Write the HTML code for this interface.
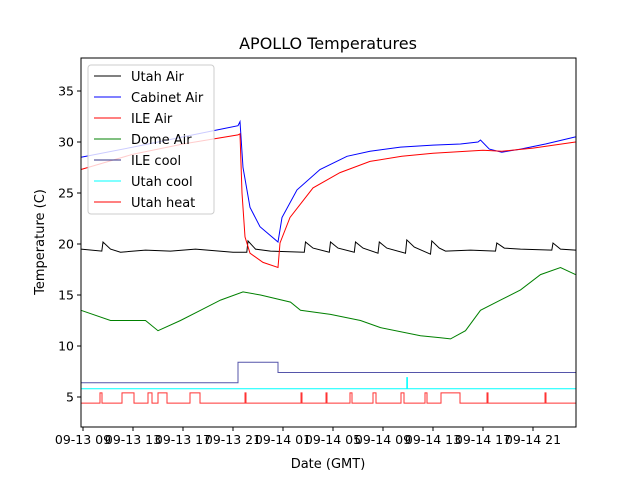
<!DOCTYPE html>
<html><head><meta charset="utf-8"><style>
body{margin:0;background:#fff;}
svg{font-family:"DejaVu Sans","Liberation Sans",sans-serif;}
</style></head><body>
<svg id="chart" width="640" height="480" viewBox="0 0 640 480" xmlns="http://www.w3.org/2000/svg">
<rect width="640" height="480" fill="#fff"/>
<text x="328" y="49" font-size="16" text-anchor="middle">APOLLO Temperatures</text>
<g id="plot"></g>
<rect x="81" y="58" width="495" height="369" fill="none" stroke="#000" stroke-width="1"/>
<g id="axes"></g>
<text x="328" y="468" font-size="13" text-anchor="middle">Date (GMT)</text>
<text transform="translate(44,242) rotate(-90)" font-size="13" text-anchor="middle">Temperature (C)</text>
<g id="legend"></g>
</svg>
<script>
// time in hours since 09-13 09:00 GMT
const xTickHours=[0,4,8,12,16,20,24,28,32,36];
const xTickLabels=["09-13 09","09-13 13","09-13 17","09-13 21","09-14 01","09-14 05","09-14 09","09-14 13","09-14 17","09-14 21"];
const yTicks=[5,10,15,20,25,30,35];
const cabinetT=[-0.16,4,8,12.4,12.56,12.8,13.36,14.16,15.6,15.92,17.12,18.96,21.12,22.96,25.4,28,30.2,31.6,31.8,32.5,33.5,35,37,39.4];
const cabinetV=[28.5,29.5,30.5,31.6,32,27.5,23.6,21.7,20.2,22.6,25.3,27.3,28.6,29.1,29.5,29.7,29.8,30,30.2,29.3,29,29.3,29.8,30.5];
const ileAirT=[-0.16,4,8,12.4,12.56,12.72,12.96,13.36,14.4,15.6,15.76,16.56,18.4,20.56,22.96,25.5,28,32,33.5,36,39.4];
const ileAirV=[27.3,28.8,29.8,30.7,30.8,25,20.7,19.1,18.2,17.7,20.1,22.6,25.5,27,28.1,28.6,28.9,29.2,29.1,29.4,30];
const utahAirT=[-0.16,1.5,1.6,2.2,3,5,7,9,12,13.1,13.2,13.8,15,17.7,17.8,18.4,19.7,19.8,20.4,21.7,21.8,22.4,23.6,23.7,24.3,25.8,25.9,26.5,27.8,27.9,28.5,29,31,33,33.1,33.7,35,37.5,37.6,38.2,39.4];
const utahAirV=[19.5,19.3,20.2,19.5,19.2,19.4,19.3,19.5,19.2,19.2,20.3,19.5,19.3,19.2,20.2,19.6,19.2,20.2,19.6,19.2,20.2,19.6,19.1,20.2,19.6,19.1,20.4,19.7,19.0,20.3,19.6,19.3,19.4,19.3,20.1,19.6,19.5,19.4,20.1,19.5,19.4];
const domeT=[-0.16,2.2,5,6,7.8,9.4,11,12.8,14.2,16.6,17.4,19.8,22.2,23.8,27,28.6,29.4,30.6,31.8,33.4,35,36.6,38.2,39.4];
const domeV=[13.5,12.5,12.5,11.5,12.5,13.5,14.5,15.3,15,14.3,13.5,13.1,12.5,11.8,11,10.8,10.7,11.5,13.5,14.5,15.5,17,17.7,17];
const ileCoolT=[-0.16,12.4,12.4,15.6,15.6,39.4];
const ileCoolV=[6.4,6.4,8.4,8.4,7.4,7.4];
const utahCoolT=[-0.16,25.9,25.9,25.95,25.95,39.4];
const utahCoolV=[5.8,5.8,6.9,6.9,5.8,5.8];
const heatOn=[1.36,3.12,5.2,6,8.56,12.96,17.44,19.44,21.36,23.2,25.44,27.36,28.64,32.32,36.96];
const heatOff=[1.52,4.08,5.52,6.72,9.36,13.04,17.52,19.52,21.52,23.44,25.68,27.52,30.16,32.4,37.04];
const heatLow=4.4, heatHigh=5.4;

const L=81,R=576,T=58,B=427;
const xs=h=>83+h*12.5;
const ys=v=>397-(v-5)*10.2;
const NS="http://www.w3.org/2000/svg";
const plot=document.getElementById('plot');
const axes=document.getElementById('axes');
function line(ts,vs,color,name){
  const p=document.createElementNS(NS,'polyline');
  p.setAttribute('points',ts.map((t,i)=>xs(t).toFixed(1)+','+ys(vs[i]).toFixed(1)).join(' '));
  p.setAttribute('fill','none');p.setAttribute('stroke',color);p.setAttribute('stroke-width','1');
  
  
  plot.appendChild(p);
}
const heatT=[-0.16],heatV=[heatLow];
heatOn.forEach((t,i)=>{heatT.push(t,t,heatOff[i],heatOff[i]);heatV.push(heatLow,heatHigh,heatHigh,heatLow);});
heatT.push(39.4);heatV.push(heatLow);
line(utahAirT,utahAirV,'#000','utah-air-line');
line(cabinetT,cabinetV,'#0000ff','cabinet-air-line');
line(ileAirT,ileAirV,'#ff0000','ile-air-line');
line(domeT,domeV,'#008000','dome-air-line');
line(ileCoolT,ileCoolV,'#5555aa','ile-cool-line');
line(utahCoolT,utahCoolV,'#00ffff','utah-cool-line');
line(heatT,heatV,'#ff3333','utah-heat-line');
xTickHours.forEach((h,i)=>{
  const x=xs(h);
  const t=document.createElementNS(NS,'line');
  t.setAttribute('x1',x);t.setAttribute('x2',x);t.setAttribute('y1',B);t.setAttribute('y2',B+4);t.setAttribute('stroke','#000');
  
  
  axes.appendChild(t);
  const tx=document.createElementNS(NS,'text');
  tx.setAttribute('x',x);tx.setAttribute('y',B+17);tx.setAttribute('font-size','12.5');tx.setAttribute('text-anchor','middle');
  tx.textContent=xTickLabels[i];
  
  
  axes.appendChild(tx);
});
yTicks.forEach(v=>{
  const y=ys(v);
  const t=document.createElementNS(NS,'line');
  t.setAttribute('x1',L-4);t.setAttribute('x2',L);t.setAttribute('y1',y);t.setAttribute('y2',y);t.setAttribute('stroke','#000');
  
  
  axes.appendChild(t);
  const tx=document.createElementNS(NS,'text');
  tx.setAttribute('x',L-7);tx.setAttribute('y',y+4.5);tx.setAttribute('font-size','12.5');tx.setAttribute('text-anchor','end');
  tx.textContent=v;
  
  
  axes.appendChild(tx);
});
const legNames=["Utah Air","Cabinet Air","ILE Air","Dome Air","ILE cool","Utah cool","Utah heat"];
const legColors=["#000","#0000ff","#ff0000","#008000","#333388","#00ffff","#ff0000"];
const lg=document.getElementById('legend');
const box=document.createElementNS(NS,'rect');
box.setAttribute('x',88);box.setAttribute('y',65);box.setAttribute('width',126);box.setAttribute('height',149);
box.setAttribute('rx',3);box.setAttribute('fill','rgba(255,255,255,0.8)');box.setAttribute('stroke','#ccc');


lg.appendChild(box);
legNames.forEach((n,i)=>{
  const y=76+i*21;
  const l=document.createElementNS(NS,'line');
  l.setAttribute('x1',94);l.setAttribute('x2',121);l.setAttribute('y1',y);l.setAttribute('y2',y);l.setAttribute('stroke',legColors[i]);
  
  
  lg.appendChild(l);
  const tx=document.createElementNS(NS,'text');
  tx.setAttribute('x',131);tx.setAttribute('y',y+5);tx.setAttribute('font-size','13');
  tx.textContent=n;
  
  
  lg.appendChild(tx);
});
</script>
</body></html>
